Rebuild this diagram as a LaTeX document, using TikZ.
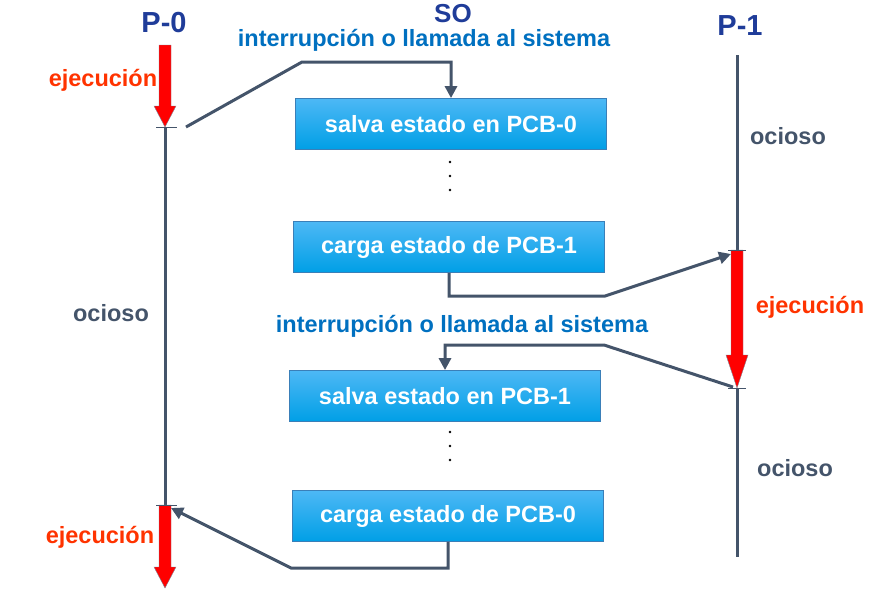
\documentclass[tikz,border=0pt]{standalone}
\usepackage{fontspec}
\setmainfont{Liberation Sans}
\usetikzlibrary{arrows.meta}
\definecolor{conn}{HTML}{44546A}
\definecolor{titleblue}{HTML}{1F3C99}
\definecolor{txtblue}{HTML}{0070C0}
\definecolor{exred}{HTML}{FF3300}
\definecolor{boxtop}{HTML}{4DB8F5}
\definecolor{boxbot}{HTML}{009FE6}
\definecolor{boxline}{HTML}{3A7FB8}
\tikzset{
  statebox/.style={draw=boxline, line width=0.8pt, top color=boxtop, bottom color=boxbot,
    minimum width=311pt, minimum height=51pt, inner sep=0pt, text=white,
    font=\bfseries\fontsize{23.5}{26}\selectfont},
  lbl/.style={font=\bfseries\fontsize{23.5}{26}\selectfont, inner sep=0pt},
  title/.style={lbl, text=titleblue, font=\bfseries\fontsize{29}{32}\selectfont},
  conn/.style={draw=conn, line width=3pt},
  connarrow/.style={conn, -{Triangle[length=12pt,width=12pt]}},
  timeline/.style={draw=conn, line width=3pt},
  tick/.style={draw=conn, line width=0.8pt},
  redarrow/.style={fill=red, draw=conn!70, line width=0.4pt},
}
\begin{document}
\begin{tikzpicture}[x=1pt,y=-1pt]
\useasboundingbox (0,0) rectangle (892,616);
% titles
\node[title, anchor=base] (p0) at (164,32) {P-0};
\node[title, anchor=base, font=\bfseries\fontsize{26}{28}\selectfont] (so) at (453,22) {SO};
\node[title, anchor=base] (p1) at (740,35) {P-1};
\node[lbl, text=txtblue, anchor=base] (int1) at (424,46) {interrupción o llamada al sistema};
\node[lbl, text=txtblue, anchor=base] (int2) at (462,332) {interrupción o llamada al sistema};
% boxes
\node[statebox] (b1) at (451,124) {salva estado en PCB-0};
\node[statebox] (b2) at (449,247) {carga estado de PCB-1};
\node[statebox] (b3) at (445,396) {salva estado en PCB-1};
\node[statebox] (b4) at (448,516) {carga estado de PCB-0};
% dots
\foreach \y in {162,176,190} \fill (450,\y) circle (1.3pt);
\foreach \y in {432,446,460} \fill (450,\y) circle (1.3pt);
% left timeline
\coordinate (l0) at (165,127);
\coordinate (l1) at (165,505);
\draw[timeline] (l0) -- (l1);
\draw[redarrow] (159,45) -- (171,45) -- (171,106) -- (176,106) -- (165,127) -- (154,106) -- (159,106) -- cycle;
\draw[redarrow] (159,505) -- (171,505) -- (171,567) -- (176,567) -- (165,588) -- (154,567) -- (159,567) -- cycle;
\draw[tick] (156,127) -- (177,127);
\draw[tick] (156,505) -- (177,505);
% right timeline
\coordinate (r0) at (737,55);
\coordinate (r1) at (737,250);
\coordinate (r2) at (737,388);
\coordinate (r3) at (737,557);
\draw[timeline] (r0) -- (r1);
\draw[timeline] (r2) -- (r3);
\draw[redarrow] (731,250) -- (743,250) -- (743,355) -- (748,355) -- (737,388) -- (726,355) -- (731,355) -- cycle;
\draw[tick] (728,250) -- (746,250);
\draw[tick] (728,388) -- (746,388);
% labels
\node[lbl, text=exred] (e1) at (103,80) {ejecución};
\node[lbl, text=exred] (e2) at (100,537) {ejecución};
\node[lbl, text=exred] (e3) at (810,307) {ejecución};
\node[lbl, text=conn] (o1) at (111,313) {ocioso};
\node[lbl, text=conn] (o2) at (788,136) {ocioso};
\node[lbl, text=conn] (o3) at (795,468) {ocioso};
% connectors
\coordinate (c1s) at (186,127);
\draw[connarrow] (c1s) -- (302,62) -| (b1.north);
\coordinate (c2e) at (731,254);
\draw[connarrow] (b2.south) |- (605,296) -- (c2e);
\coordinate (c3s) at (733,387);
\draw[connarrow] (c3s) -- (604,345) -| (b3.north);
\coordinate (c4e) at (171,508);
\draw[connarrow] (b4.south) |- (291,568) -- (c4e);
\end{tikzpicture}
\end{document}
